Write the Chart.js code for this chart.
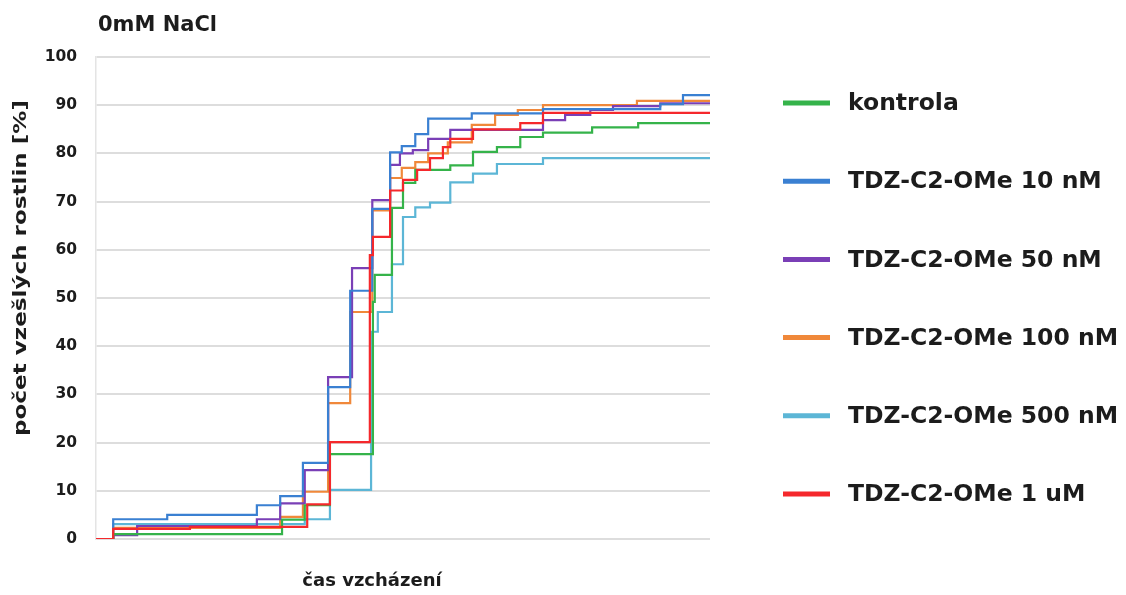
<!DOCTYPE html>
<html>
<head>
<meta charset="utf-8">
<title>0mM NaCl</title>
<script src="https://cdn.jsdelivr.net/npm/chart.js@4.4.1/dist/chart.umd.min.js"></script>
<style>
  html, body { margin: 0; padding: 0; background: #ffffff; }
  #wrap { width: 1126px; height: 595px; position: relative; }
</style>
</head>
<body>
<div id="wrap"><canvas id="chart" width="1126" height="595"></canvas></div>
<script>
// Cumulative emergence (% of plants) — each pair is the time at which the
// cumulative share steps up and the new share reached at that time.
const chartTitle = '0mM NaCl';
const xTitle = 'čas vzcházení';
const yTitle = 'počet vzešlých rostlin [%]';

const seriesNames = [
  'kontrola',
  'TDZ-C2-OMe 10 nM',
  'TDZ-C2-OMe 50 nM',
  'TDZ-C2-OMe 100 nM',
  'TDZ-C2-OMe 500 nM',
  'TDZ-C2-OMe 1 uM'
];
const seriesColors = ['#35b34a', '#3a80d2', '#7a3fb6', '#f0883a', '#5cb6d6', '#f5282c'];

const kontrolaT = [0, 2.8, 30.3, 34.0, 38.1, 45.1, 45.4, 48.2, 50.0, 52.0, 57.7, 61.4, 65.3, 69.1, 72.8, 80.8, 88.3, 100];
const kontrolaV = [0, 1.0, 4.0, 7.0, 17.6, 49.2, 54.8, 68.7, 73.9, 76.6, 77.5, 80.3, 81.3, 83.4, 84.3, 85.4, 86.3, 86.3];

const nM10T = [0, 2.8, 11.6, 26.2, 30.0, 33.7, 37.8, 41.4, 45.0, 47.9, 49.8, 52.0, 54.1, 61.2, 72.8, 91.9, 95.6, 100];
const nM10V = [0, 4.1, 5.0, 7.0, 8.9, 15.8, 31.5, 51.5, 68.5, 80.2, 81.5, 84.0, 87.2, 88.3, 89.2, 90.2, 92.1, 92.1];

const nM50T = [0, 2.8, 6.7, 26.2, 30.0, 34.0, 37.8, 41.7, 45.0, 47.9, 49.5, 51.6, 54.1, 57.7, 72.8, 76.4, 80.5, 84.2, 91.9, 100];
const nM50V = [0, 0.8, 2.7, 4.1, 7.4, 14.3, 33.6, 56.2, 70.3, 77.6, 80.0, 80.7, 83.0, 84.9, 86.9, 88.0, 89.0, 89.8, 90.4, 90.4];

const nM100T = [0, 2.8, 30.0, 33.7, 37.8, 41.4, 45.0, 47.9, 49.8, 52.0, 54.1, 57.3, 61.2, 65.0, 68.7, 72.8, 88.1, 100];
const nM100V = [0, 2.3, 4.6, 9.8, 28.2, 47.1, 68.2, 74.9, 77.0, 78.2, 80.0, 82.3, 85.9, 88.0, 89.0, 90.0, 90.9, 90.9];

const nM500T = [0, 2.8, 34.0, 38.1, 44.8, 45.9, 48.2, 50.0, 52.0, 54.4, 57.7, 61.4, 65.3, 72.8, 100];
const nM500V = [0, 3.1, 4.1, 10.2, 43.0, 47.1, 57.0, 66.8, 68.8, 69.8, 74.0, 75.8, 77.8, 79.0, 79.0];

const uM1T = [0, 2.8, 15.3, 34.4, 38.1, 44.6, 45.1, 47.9, 50.0, 52.3, 54.4, 56.5, 57.7, 61.4, 69.1, 72.8, 100];
const uM1V = [0, 2.1, 2.5, 7.2, 20.1, 58.9, 62.7, 72.3, 74.5, 76.6, 79.0, 81.3, 83.0, 85.0, 86.3, 88.4, 88.4];

const seriesT = [kontrolaT, nM10T, nM50T, nM100T, nM500T, uM1T];
const seriesV = [kontrolaV, nM10V, nM50V, nM100V, nM500V, uM1V];

const yTicks = { min: 0, max: 100, step: 10 };

const FONT = '"DejaVu Sans", "Liberation Sans", Arial, sans-serif';
const INK = '#1c1c1c';

const datasets = seriesNames.map((name, i) => ({
  label: name,
  data: seriesT[i].map((t, k) => ({ x: t, y: seriesV[i][k] })),
  borderColor: seriesColors[i],
  backgroundColor: seriesColors[i],
  borderWidth: 2.2,
  pointRadius: 0,
  stepped: 'before',
  fill: false,
  // the last series (1 uM) is painted above the others
  order: i === seriesNames.length - 1 ? 0 : 1
}));

// Chart title, axis titles and the key on the right
const annotationsPlugin = {
  id: 'titlesAndKey',
  afterDraw(chart) {
    const ctx = chart.ctx;
    const area = chart.chartArea;
    ctx.save();
    ctx.fillStyle = INK;

    ctx.font = 'bold 21px ' + FONT;
    ctx.textAlign = 'left';
    ctx.textBaseline = 'middle';
    ctx.fillText(chartTitle, area.left + 2, 26);

    ctx.font = 'bold 18px ' + FONT;
    ctx.textAlign = 'center';
    ctx.fillText(xTitle, area.left + 276, 581);

    // vertical axis title, set a little elongated along its baseline
    ctx.save();
    ctx.font = 'bold 18.5px ' + FONT;
    ctx.translate(21, 268);
    ctx.rotate(-Math.PI / 2);
    const natural = ctx.measureText(yTitle).width;
    ctx.scale(336 / natural, 1);
    ctx.fillText(yTitle, 0, 0);
    ctx.restore();

    ctx.font = 'bold 23.5px ' + FONT;
    ctx.textAlign = 'left';
    chart.data.datasets.forEach((ds, i) => {
      const cy = 103 + i * 78.2;
      ctx.strokeStyle = ds.borderColor;
      ctx.lineWidth = 5;
      ctx.lineCap = 'butt';
      ctx.beginPath();
      ctx.moveTo(783, cy);
      ctx.lineTo(830, cy);
      ctx.stroke();
      ctx.fillStyle = INK;
      ctx.fillText(ds.label, 848, cy + 1);
    });
    ctx.restore();
  }
};

new Chart(document.getElementById('chart'), {
  type: 'line',
  data: { datasets },
  options: {
    responsive: false,
    animation: false,
    devicePixelRatio: 1,
    layout: { padding: { left: 0, top: 57, right: 416, bottom: 56 } },
    plugins: {
      legend: { display: false },
      title: { display: false },
      tooltip: { enabled: false }
    },
    scales: {
      x: {
        type: 'linear',
        min: 0,
        max: 100,
        grid: { display: false, drawTicks: false },
        border: { display: false },
        ticks: { display: false },
        afterFit(scale) { scale.height = 0; }
      },
      y: {
        min: yTicks.min,
        max: yTicks.max,
        ticks: {
          stepSize: yTicks.step,
          padding: 19,
          color: INK,
          font: { family: FONT, size: 15.5, weight: 'bold' }
        },
        grid: { color: '#dddddd', lineWidth: 2, drawTicks: false },
        border: { display: true, color: '#e4e4e4', width: 1.5 },
        afterFit(scale) { scale.width = 96; }
      }
    }
  },
  plugins: [annotationsPlugin]
});
</script>
</body>
</html>
